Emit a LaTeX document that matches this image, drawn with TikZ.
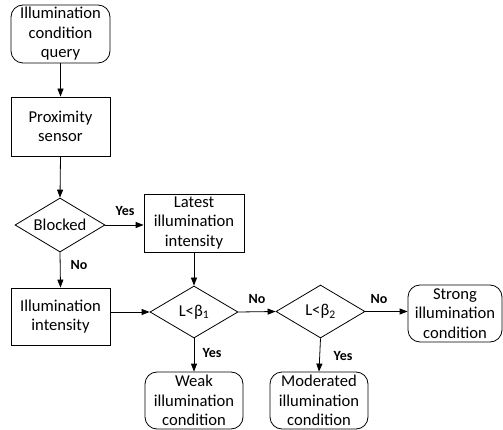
\documentclass[tikz,border=0pt]{standalone}
\usepackage{fontspec}
\setmainfont{Carlito}
\usetikzlibrary{shapes.geometric,arrows.meta}
\tikzset{
  base/.style={draw=black, line width=0.8pt, align=center, inner sep=0pt,
    font=\fontsize{16.6}{19.5}\selectfont},
  term/.style={base, rounded corners=12pt},
  proc/.style={base, rectangle},
  dec/.style={base, diamond, aspect=1.7},
  conn/.style={line width=0.8pt, -{Triangle[length=8pt,width=6pt]}},
  lab/.style={font=\fontsize{14}{15}\selectfont\bfseries, inner sep=0pt}
}
\begin{document}
\begin{tikzpicture}[x=1pt,y=-1pt]
\useasboundingbox (0,0) rectangle (503,430);
\node[term, minimum width=99pt, minimum height=58pt] (start) at (60.5,34) {Illumination\\condition\\query};
\node[proc, minimum width=99pt, minimum height=59pt] (prox) at (60.5,126.5) {Proximity\\sensor};
\node[dec, minimum width=90pt, minimum height=54pt] (blk) at (60,225) {Blocked};
\node[proc, minimum width=100pt, minimum height=58pt] (lat) at (194,223) {Latest\\illumination\\intensity};
\node[proc, minimum width=99pt, minimum height=57pt] (ill) at (60.5,316.5) {Illumination\\intensity};
\node[dec, minimum width=88pt, minimum height=52pt] (d1) at (194,312) {L<β\textsubscript{1}};
\node[dec, minimum width=89pt, minimum height=53pt] (d2) at (320.5,311.5) {L<β\textsubscript{2}};
\node[term, minimum width=94pt, minimum height=57pt] (str) at (455,313.5) {Strong\\illumination\\condition};
\node[term, minimum width=98pt, minimum height=57pt] (weak) at (194,400.5) {Weak\\illumination\\condition};
\node[term, minimum width=98pt, minimum height=57pt] (mod) at (319,400.5) {Moderated\\illumination\\condition};

\draw[conn] (start.south) -- (prox.north);
\draw[conn] (prox.south) -- (blk.north);
\draw[conn] (blk.east) -- (blk.east -| lat.west);
\draw[conn] (blk.south) -- (ill.north);
\draw[conn] (lat.south) -- (d1.north);
\draw[conn] (ill.east |- d1.west) -- (d1.west);
\draw[conn] (d1.east) -- (d2.west);
\draw[conn] (d2.east) -- (d2.east -| str.west);
\draw[conn] (d1.south) -- (weak.north);
\draw[conn] (d2.south) -- (mod.north);

\node[lab] (l1) at (125,211) {Yes};
\node[lab] (l2) at (79,265) {No};
\node[lab] (l3) at (257,299) {No};
\node[lab] (l4) at (379,299) {No};
\node[lab] (l5) at (212,353) {Yes};
\node[lab] (l6) at (343,356) {Yes};
\end{tikzpicture}
\end{document}
